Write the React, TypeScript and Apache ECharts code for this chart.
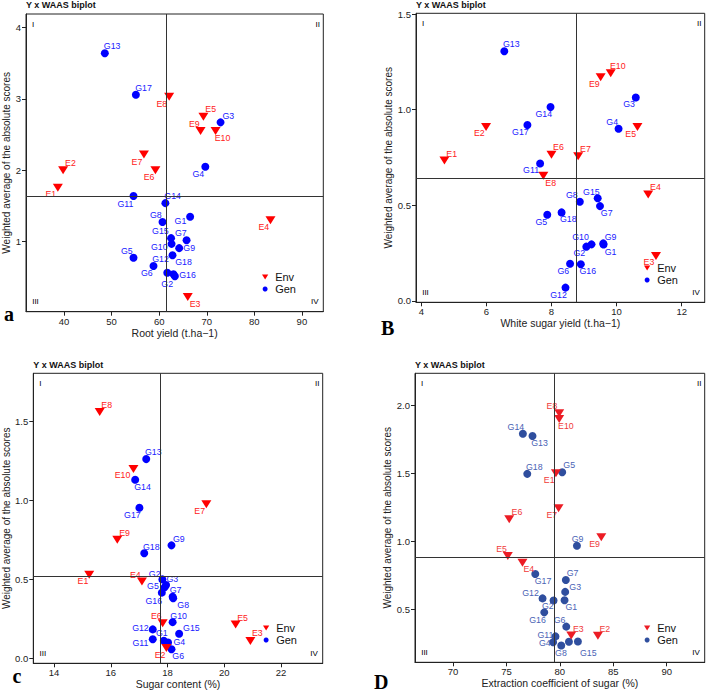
import React, { useEffect, useRef } from 'react';
import * as echarts from 'echarts';

// ---------- shared names ----------
const envNames = ['E1', 'E2', 'E3', 'E4', 'E5', 'E6', 'E7', 'E8', 'E9', 'E10'];
const genNames = ['G1', 'G2', 'G3', 'G4', 'G5', 'G6', 'G7', 'G8', 'G9', 'G10', 'G11', 'G12', 'G13', 'G14', 'G15', 'G16', 'G17', 'G18'];

// ---------- panel a: Root yield ----------
const rootYieldEnv = [38.7, 39.8, 66.0, 83.4, 69.3, 59.2, 56.8, 62.1, 68.7, 71.85];
const rootWaasEnv = [1.755, 2.0, 0.227, 1.3, 2.75, 2.0, 2.22, 3.03, 2.55, 2.55];
const rootYieldGen = [66.5, 63.0, 72.9, 69.7, 54.6, 58.8, 65.75, 60.7, 64.2, 62.6, 54.6, 61.7, 48.57, 61.3, 62.5, 63.3, 55.1, 62.8];
const rootWaasGen = [1.35, 0.544, 2.67, 2.05, 0.776, 0.66, 1.02, 1.275, 0.91, 0.97, 1.64, 0.566, 3.636, 1.54, 1.05, 0.516, 3.057, 0.81];
const rootMeans = [61.5, 1.625];
const rootXTicks = [40, 50, 60, 70, 80, 90];
const rootYTicks = [1, 2, 3, 4];

// ---------- panel B: White sugar yield ----------
const wsyEnv = [4.71, 5.99, 11.21, 10.97, 10.64, 8.0, 8.82, 7.75, 9.51, 9.82];
const wsyWaasEnv = [0.734, 0.909, 0.235, 0.557, 0.909, 0.765, 0.756, 0.655, 1.169, 1.19];
const wsyGen = [9.6, 9.07, 10.59, 10.06, 7.87, 8.57, 9.49, 8.87, 9.59, 9.23, 7.65, 8.43, 6.55, 7.97, 9.42, 8.9, 7.26, 8.31];
const wsyWaasGen = [0.295, 0.284, 1.064, 0.9, 0.451, 0.195, 0.496, 0.519, 0.301, 0.296, 0.719, 0.07, 1.305, 1.014, 0.537, 0.192, 0.92, 0.463];
const wsyMeans = [8.75, 0.641];
const wsyXTicks = [4, 6, 8, 10, 12];
const wsyYTicks = [0, 0.5, 1, 1.5];

// ---------- panel c: Sugar content ----------
const scEnv = [15.24, 17.96, 20.92, 17.1, 20.4, 17.83, 19.37, 15.61, 16.23, 16.8];
const scWaasEnv = [0.53, 0.065, 0.109, 0.487, 0.214, 0.222, 0.977, 1.561, 0.752, 1.2];
const scGen = [17.87, 17.82, 17.95, 18.02, 17.9, 18.14, 18.18, 18.2, 18.14, 18.18, 17.48, 17.48, 17.25, 16.86, 18.41, 17.8, 17.01, 17.18];
const scWaasGen = [0.111, 0.5, 0.465, 0.1, 0.45, 0.057, 0.39, 0.38, 0.716, 0.229, 0.121, 0.183, 1.263, 1.132, 0.155, 0.416, 0.954, 0.666];
const scMeans = [17.75, 0.517];
const scXTicks = [14, 16, 18, 20, 22];
const scYTicks = [0, 0.5, 1, 1.5];

// ---------- panel D: Extraction coefficient of sugar ----------
const ecEnv = [79.63, 83.56, 81.07, 76.5, 75.13, 75.26, 79.88, 79.94, 83.88, 79.94];
const ecWaasEnv = [1.503, 0.304, 0.306, 0.843, 0.892, 1.164, 1.245, 1.944, 1.03, 1.902];
const ecGen = [80.44, 79.41, 80.5, 79.37, 80.22, 80.6, 80.56, 80.13, 81.6, 80.85, 79.59, 78.38, 77.44, 76.54, 81.69, 78.54, 77.7, 76.95];
const ecWaasGen = [0.566, 0.565, 0.628, 0.257, 1.51, 0.372, 0.716, 0.233, 0.968, 0.26, 0.3, 0.58, 1.777, 1.794, 0.262, 0.477, 0.76, 1.498];
const ecMeans = [79.44, 0.882];
const ecXTicks = [70, 75, 80, 85, 90];
const ecYTicks = [0.5, 1, 1.5, 2];

// ---------- label placement (layout, pixel offsets of label centre) ----------
const offA: Record<string, number[]> = {
  E1: [-7, 6.7], E2: [7.3, -7.3], E3: [7.3, 7], E4: [-6.7, 7], E5: [7.3, -7.3], E6: [-6.3, 6.3], E7: [-7, 7.7], E8: [-7.3, 7], E9: [-6.3, -7], E10: [7, 7.3],
  G1: [-9.7, 4], G2: [-6.3, 9.7], G3: [7.7, -6.7], G4: [-7, 7], G5: [-6.7, -7], G6: [-6.7, 7], G7: [-5.7, -7], G8: [-6.7, -7], G9: [10, 0], G10: [-12.3, 2.7],
  G11: [-8, 7.7], G12: [-6.7, -13.7], G13: [7.3, -7.3], G14: [7.3, -6.7], G15: [-10.7, -7], G16: [12.7, -1.7], G17: [7.7, -7], G18: [11, 7],
};
const offB: Record<string, number[]> = {
  E1: [7.3, -7], E2: [-6.7, 6.3], E3: [-7, 6.3], E4: [7.3, -7.7], E5: [-6.7, 6.7], E6: [7, -7.3], E7: [7.3, -7.7], E8: [7.3, 7.3], E9: [-6.3, 6.3], E10: [7, -7],
  G1: [7, 7], G2: [-7, 6.6], G3: [-6.7, 7], G4: [-6.3, -6.7], G5: [-6, 7.3], G6: [-6.7, 7], G7: [6.7, 6.7], G8: [-8, -7], G9: [7.3, -6.6], G10: [-11, -7.6],
  G11: [-9, 7], G12: [-7, 7.3], G13: [7, -7], G14: [-6.7, 7], G15: [-6.3, -6.7], G16: [7, 6.3], G17: [-7, 6.7], G18: [6.7, 6.7],
};
const offC: Record<string, number[]> = {
  E1: [-6.3, 6.3], E2: [-6.3, 6.7], E3: [7, -7.7], E4: [-6.7, -6.3], E5: [7, -7], E6: [-6.3, -7.3], E7: [-6.7, 6.7], E8: [7, -7], E9: [7.3, -7], E10: [-11, 6.3],
  G1: [-2, -7.3], G2: [-7.7, -5.7], G3: [6.3, -6], G4: [11.3, 0], G5: [-11.7, -1], G6: [6.7, 6.7], G7: [3, -7], G8: [10, 6.3], G9: [7.3, -6.7], G10: [6, -6.3],
  G11: [-12.3, 4.3], G12: [-12.3, -1], G13: [7, -6.7], G14: [7.3, 7.7], G15: [12.3, -6], G16: [-8, 8.7], G17: [-7, 7], G18: [7, -6.7],
};
const offD: Record<string, number[]> = {
  E1: [-6.7, 6.7], E2: [7, -7.3], E3: [7, -7], E4: [6.3, 6], E5: [-6.3, -7.3], E6: [7.7, -7], E7: [-6.7, 6.7], E8: [-7.3, -7.3], E9: [-6.7, 7], E10: [6.7, 6.7],
  G1: [6.7, 7], G2: [-5.7, 5.7], G3: [10, -5], G4: [-8.3, 1], G5: [7, -7], G6: [-6.7, -7], G7: [6.7, -7], G8: [-0.3, 8], G9: [0.7, -6.7], G10: [0, 0],
  G11: [-10, -1.7], G12: [-12, -5], G13: [7, 7.3], G14: [-7, -7], G15: [10.3, 11.7], G16: [-6.7, 7.3], G17: [7.7, 7.3], G18: [7, -7],
};

const yTitle = 'Weighted average of the absolute scores';

const panels = [
  {
    grid: { left: 26, top: 14, width: 297.3, height: 297.7 },
    xr: [32, 94.5], yr: [0.021, 4.186], xt: rootXTicks, yt: rootYTicks, yfmt: (v: number) => String(v),
    xName: 'Root yield (t.ha\u22121)', yGap: 13,
    envX: rootYieldEnv, envY: rootWaasEnv, genX: rootYieldGen, genY: rootWaasGen, means: rootMeans, off: offA,
    envColor: '#ff0000', envLabel: '#ff2020', genColor: '#0000ff', genLabel: '#2020ff',
    legend: [262, 271.5], title: [26, 0], letter: 'a', letterPos: [4, 314], hide: [] as string[],
  },
  {
    grid: { left: 416, top: 13.3, width: 288.7, height: 289 },
    xr: [3.837, 12.707], yr: [-0.0068, 1.5037], xt: wsyXTicks, yt: wsyYTicks, yfmt: (v: number) => v.toFixed(1),
    xName: 'White sugar yield (t.ha\u22121)', yGap: 17,
    envX: wsyEnv, envY: wsyWaasEnv, genX: wsyGen, genY: wsyWaasGen, means: wsyMeans, off: offB,
    envColor: '#ff0000', envLabel: '#ff2020', genColor: '#0000ff', genLabel: '#2020ff',
    legend: [644, 262.5], title: [416, 0], letter: 'B', letterPos: [381, 328], hide: [] as string[],
  },
  {
    grid: { left: 33.3, top: 373.3, width: 289.4, height: 290 },
    xr: [13.27, 23.47], yr: [-0.032, 1.807], xt: scXTicks, yt: scYTicks, yfmt: (v: number) => v.toFixed(1),
    xName: 'Sugar content (%)', yGap: 20,
    envX: scEnv, envY: scWaasEnv, genX: scGen, genY: scWaasGen, means: scMeans, off: offC,
    envColor: '#ff0000', envLabel: '#ff2020', genColor: '#0000ff', genLabel: '#2020ff',
    legend: [263, 622.5], title: [33.3, 360.5], letter: 'c', letterPos: [12.5, 675.5], hide: [] as string[],
  },
  {
    grid: { left: 415, top: 373.3, width: 289.7, height: 289 },
    xr: [66.44, 93.56], yr: [0.109, 2.239], xt: ecXTicks, yt: ecYTicks, yfmt: (v: number) => v.toFixed(1),
    xName: 'Extraction coefficient of sugar (%)', yGap: 20.5,
    envX: ecEnv, envY: ecWaasEnv, genX: ecGen, genY: ecWaasGen, means: ecMeans, off: offD,
    envColor: '#ec1c24', envLabel: '#f03a3a', genColor: '#2f4e9e', genLabel: '#4a63b5',
    legend: [644, 622.5], title: [415, 360.5], letter: 'D', letterPos: [374, 681.5], hide: ['G10'],
  },
];

function buildOption() {
  const grid: any[] = [];
  const xAxis: any[] = [];
  const yAxis: any[] = [];
  const series: any[] = [];
  const legend: any[] = [];
  const title: any[] = [];
  const graphic: any[] = [];
  const ink = '#222';

  panels.forEach((p, i) => {
    const g = p.grid;
    grid.push({ left: g.left, top: g.top, width: g.width, height: g.height, show: true, borderColor: ink, borderWidth: 1, containLabel: false });
    xAxis.push({
      type: 'value', gridIndex: i, min: p.xr[0], max: p.xr[1],
      splitLine: { show: false },
      axisLine: { show: true, onZero: false, lineStyle: { color: ink, width: 1 } },
      axisTick: { show: true, length: 4, customValues: p.xt, lineStyle: { color: ink } },
      axisLabel: { customValues: p.xt, fontSize: 9.5, color: ink, margin: 4.5, formatter: (v: number) => String(v) },
      name: p.xName, nameLocation: 'middle', nameGap: 15, nameTextStyle: { fontSize: 10.5, color: ink },
    });
    yAxis.push({
      type: 'value', gridIndex: i, min: p.yr[0], max: p.yr[1],
      splitLine: { show: false },
      axisLine: { show: true, onZero: false, lineStyle: { color: ink, width: 1 } },
      axisTick: { show: true, length: 4, customValues: p.yt, lineStyle: { color: ink } },
      axisLabel: { customValues: p.yt, fontSize: 9.5, color: ink, margin: 5, formatter: p.yfmt },
      name: yTitle, nameLocation: 'middle', nameGap: p.yGap, nameTextStyle: { fontSize: 10, color: ink },
    });
    series.push({
      type: 'scatter', name: 'Gen', xAxisIndex: i, yAxisIndex: i,
      symbol: 'circle', symbolSize: 8, itemStyle: { color: p.genColor, opacity: 1 },
      label: { show: true, position: 'inside', formatter: '{b}', fontSize: 8.8, color: p.genLabel },
      data: genNames.map((n, k) => ({
        name: n, value: [p.genX[k], p.genY[k]],
        label: { offset: p.off[n], show: p.hide.indexOf(n) < 0 },
      })),
      markLine: {
        silent: true, symbol: 'none', animation: false,
        label: { show: false },
        lineStyle: { color: '#333', type: 'solid', width: 1 },
        data: [{ xAxis: p.means[0] }, { yAxis: p.means[1] }],
      },
      z: 2,
    });
    series.push({
      type: 'scatter', name: 'Env', xAxisIndex: i, yAxisIndex: i,
      symbol: 'triangle', symbolRotate: 180, symbolSize: [10, 8],
      itemStyle: { color: p.envColor, opacity: 1 },
      label: { show: true, position: 'inside', formatter: '{b}', fontSize: 8.8, color: p.envLabel },
      data: envNames.map((n, k) => ({
        name: n, value: [p.envX[k], p.envY[k]],
        label: { offset: p.off[n] },
      })),
      z: 3,
    });
    legend.push({
      left: p.legend[0], top: p.legend[1], orient: 'vertical', padding: 0, itemGap: 1,
      itemWidth: 10, itemHeight: 5, symbolRotate: 0, selectedMode: false,
      textStyle: { fontSize: 11, color: '#111', padding: [0, 0, 0, 0] },
      data: [
        { name: 'Env', icon: 'path://M0,0L10,0L5,8Z', itemStyle: { color: p.envColor } },
        { name: 'Gen', icon: 'circle', itemStyle: { color: p.genColor } },
      ],
    });
    title.push({
      text: 'Y x WAAS biplot', left: p.title[0], top: p.title[1], padding: 0,
      textStyle: { fontSize: 9, fontWeight: 'bold', color: '#111', fontFamily: 'Liberation Sans' },
    });
    const right = g.left + g.width;
    const bottom = g.top + g.height;
    const q = (text: string, x: number, y: number) => ({
      type: 'text', x, y, silent: true, z: 10,
      style: { text, fontSize: 8, fill: '#000', align: 'center', verticalAlign: 'middle', fontFamily: 'Liberation Sans' },
    });
    graphic.push(q('I', g.left + 7, g.top + 10.5));
    graphic.push(q('II', right - 5.5, g.top + 10.5));
    graphic.push(q('III', g.left + 9.5, bottom - 9.8));
    graphic.push(q('IV', right - 8.6, bottom - 9.8));
    graphic.push({
      type: 'text', x: p.letterPos[0], y: p.letterPos[1], silent: true,
      style: { text: p.letter, fontSize: 20, fontWeight: 'bold', fill: '#000', align: 'left', verticalAlign: 'middle', fontFamily: 'Liberation Serif' },
    });
  });

  return {
    animation: false,
    backgroundColor: '#ffffff',
    textStyle: { fontFamily: 'Liberation Sans, Arial, sans-serif' },
    grid, xAxis, yAxis, series, legend, title, graphic,
  };
}

export default function App() {
  const ref = useRef<HTMLDivElement>(null);
  useEffect(() => {
    if (!ref.current) return;
    const chart = echarts.init(ref.current, null, { renderer: 'svg' });
    chart.setOption(buildOption() as any);
    return () => chart.dispose();
  }, []);
  return (
    <div
      ref={ref}
      style={{ position: 'fixed', left: 0, top: 0, width: 708, height: 696, background: '#fff' }}
    />
  );
}
